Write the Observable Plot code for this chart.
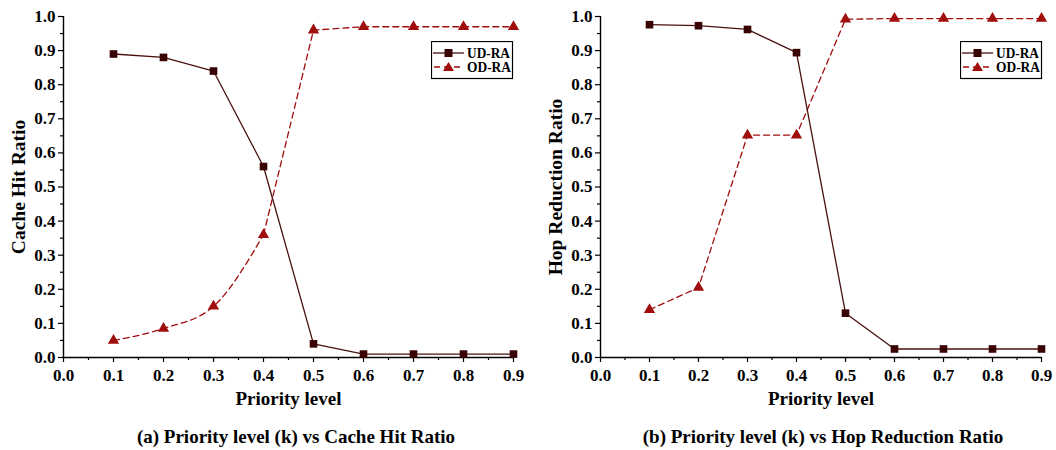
<!DOCTYPE html>
<html>
<head>
<meta charset="utf-8">
<script src="https://cdn.jsdelivr.net/npm/d3@7"></script>
<script src="https://cdn.jsdelivr.net/npm/@observablehq/plot@0.6"></script>
<style>
  html, body { margin: 0; padding: 0; background: #fff; }
  #wrap { position: relative; width: 1056px; height: 450px; font-family: "Liberation Serif", "Times New Roman", serif; font-weight: bold; }
  .panel { position: absolute; top: 0; width: 528px; height: 415px; }
  .caption { position: absolute; top: 426px; font-size: 19px; text-align: center; white-space: nowrap; }
  .legend { position: absolute; }
  .legend text { font-family: "Liberation Serif", "Times New Roman", serif; font-weight: bold; font-size: 14px; }
</style>
</head>
<body>
<div id="wrap"></div>
<script>
// ---- data ----
const priority = [0.1, 0.2, 0.3, 0.4, 0.5, 0.6, 0.7, 0.8, 0.9];
const cacheUD = [0.89, 0.88, 0.84, 0.56, 0.04, 0.01, 0.01, 0.01, 0.01];
const cacheOD = [0.05, 0.085, 0.15, 0.36, 0.96, 0.97, 0.97, 0.97, 0.97];
const hopUD = [0.976, 0.973, 0.962, 0.894, 0.13, 0.025, 0.025, 0.025, 0.025];
const hopOD = [0.14, 0.205, 0.652, 0.652, 0.992, 0.994, 0.994, 0.994, 0.994];
const xTicks = [0.0, 0.1, 0.2, 0.3, 0.4, 0.5, 0.6, 0.7, 0.8, 0.9];
const yTicks = [0.0, 0.1, 0.2, 0.3, 0.4, 0.5, 0.6, 0.7, 0.8, 0.9, 1.0];
const seriesNames = ["UD-RA", "OD-RA"];
const xLabel = "Priority level";
const yLabels = ["Cache Hit Ratio", "Hop Reduction Ratio"];
const captions = ["(a) Priority level (k) vs Cache Hit Ratio", "(b) Priority level (k) vs Hop Reduction Ratio"];

const UD_STROKE = "#4a1010", UD_FILL = "#3a0303", OD_COLOR = "#a00d0d";
const xMinor = xTicks.slice(0, -1).map(v => v + 0.05);
const yMinor = yTicks.slice(0, -1).map(v => v + 0.05);

// smoothSplit: number of leading points drawn as a smooth curve (rest linear)
function panel(ud, od, yLabel, marginLeft, smoothSplit) {
  const udData = priority.map((x, i) => ({x, y: ud[i]}));
  const odData = priority.map((x, i) => ({x, y: od[i]}));
  const odLines = smoothSplit
    ? [
        Plot.line(odData.slice(0, smoothSplit), {x: "x", y: "y", stroke: OD_COLOR, strokeWidth: 1.3, strokeDasharray: "6,4", curve: "monotone-x"}),
        Plot.line(odData.slice(smoothSplit - 1), {x: "x", y: "y", stroke: OD_COLOR, strokeWidth: 1.3, strokeDasharray: "6,4"})
      ]
    : [Plot.line(odData, {x: "x", y: "y", stroke: OD_COLOR, strokeWidth: 1.3, strokeDasharray: "6,4"})];
  return Plot.plot({
    width: 528, height: 415,
    marginLeft, marginRight: 15, marginTop: 16, marginBottom: 58,
    style: {fontFamily: "'Liberation Serif', 'Times New Roman', serif", fontWeight: "bold", fontSize: "17px", color: "#000", background: "transparent", overflow: "visible"},
    x: {domain: [0, 0.9]},
    y: {domain: [0, 1]},
    marks: [
      Plot.axisX({ticks: xTicks, tickFormat: d3.format(".1f"), tickSize: 5, tickPadding: 6, label: null, fontSize: 17, fontWeight: "bold", strokeWidth: 1.2}),
      Plot.axisX({ticks: xMinor, tickSize: 3, text: null, label: null, strokeWidth: 1.2}),
      Plot.axisY({ticks: yTicks, tickFormat: d3.format(".1f"), tickSize: 5, tickPadding: 3, label: null, fontSize: 17, fontWeight: "bold", strokeWidth: 1.2}),
      Plot.axisY({ticks: yMinor, tickSize: 3, text: null, label: null, strokeWidth: 1.2}),
      Plot.ruleX([0], {stroke: "#000", strokeWidth: 1.4}),
      Plot.ruleY([0], {stroke: "#000", strokeWidth: 1.4}),
      ...odLines,
      Plot.line(udData, {x: "x", y: "y", stroke: UD_STROKE, strokeWidth: 1.3}),
      Plot.dot(odData, {x: "x", y: "y", symbol: "triangle", r: 4.2, fill: OD_COLOR, stroke: "none"}),
      Plot.dot(udData, {x: "x", y: "y", symbol: "square", r: 4.3, fill: UD_FILL, stroke: "none"}),
      Plot.text([xLabel], {frameAnchor: "bottom", dy: 47, fontSize: 19, fontWeight: "bold", fill: "#000"}),
      Plot.text([yLabel], {frameAnchor: "left", textAnchor: "middle", dx: -45, rotate: -90, fontSize: 19.5, fontWeight: "bold", fill: "#000"})
    ]
  });
}

function legendSvg() {
  const ns = "http://www.w3.org/2000/svg";
  const svg = document.createElementNS(ns, "svg");
  svg.setAttribute("width", 84); svg.setAttribute("height", 40);
  svg.innerHTML = `
    <rect x="0.5" y="0.5" width="81" height="37" fill="#fff" stroke="#000" stroke-width="1.2"/>
    <line x1="2" x2="33" y1="12" y2="12" stroke="${UD_STROKE}" stroke-width="1.3"/>
    <rect x="13.5" y="8" width="8" height="8" fill="${UD_FILL}"/>
    <line x1="2" x2="33" y1="26" y2="26" stroke="${OD_COLOR}" stroke-width="1.3" stroke-dasharray="6,4" stroke-dashoffset="-1"/>
    <path d="M17.5,21 L23,30 L12,30 Z" fill="${OD_COLOR}"/>
    <text x="36" y="17" textLength="43" lengthAdjust="spacingAndGlyphs">${seriesNames[0]}</text>
    <text x="36" y="31" textLength="44" lengthAdjust="spacingAndGlyphs">${seriesNames[1]}</text>`;
  return svg;
}

const wrap = document.getElementById("wrap");
const configs = [
  {ud: cacheUD, od: cacheOD, marginLeft: 63, left: 0, smooth: 4, legendLeft: 431, captionCenter: 296},
  {ud: hopUD, od: hopOD, marginLeft: 72, left: 528, smooth: 0, legendLeft: 960, captionCenter: 823}
];
configs.forEach((c, i) => {
  const div = document.createElement("div");
  div.className = "panel";
  div.style.left = c.left + "px";
  div.appendChild(panel(c.ud, c.od, yLabels[i], c.marginLeft, c.smooth));
  wrap.appendChild(div);

  const lg = document.createElement("div");
  lg.className = "legend";
  lg.style.left = c.legendLeft + "px";
  lg.style.top = "41px";
  lg.appendChild(legendSvg());
  wrap.appendChild(lg);

  const cap = document.createElement("div");
  cap.className = "caption";
  cap.textContent = captions[i];
  cap.style.left = (c.captionCenter - 250) + "px";
  cap.style.width = "500px";
  wrap.appendChild(cap);
});
</script>
</body>
</html>
